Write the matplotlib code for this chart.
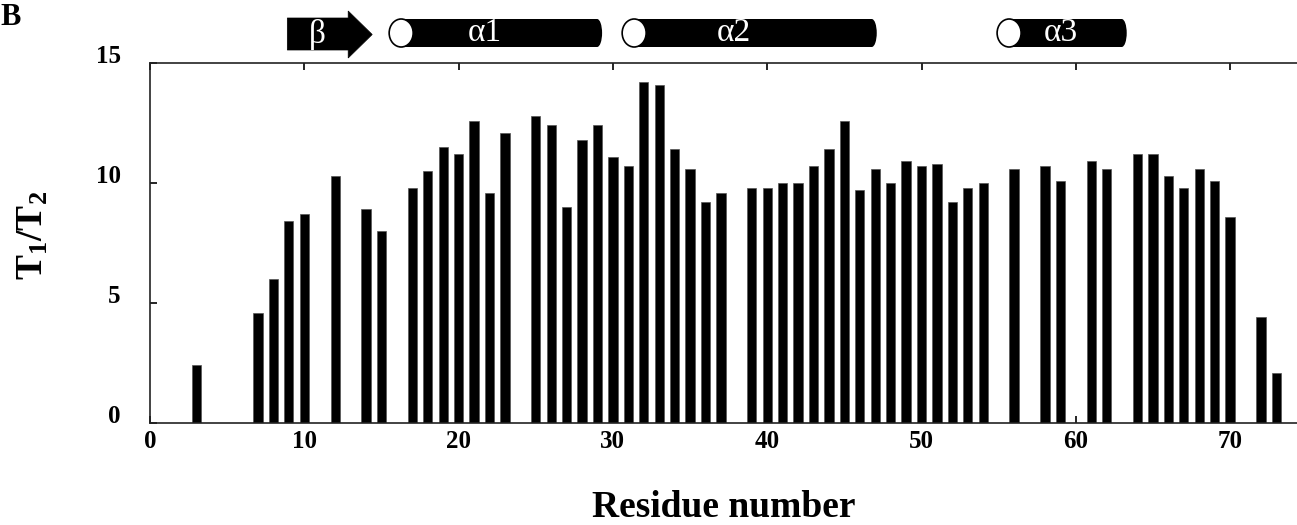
import matplotlib
matplotlib.use("Agg")
import matplotlib.pyplot as plt
from matplotlib.patches import Rectangle, Ellipse, Polygon

# T1/T2 per residue
residues = [3, 7, 8, 9, 10, 12, 14, 15, 17, 18, 19, 20, 21, 22, 23,
            25, 26, 27, 28, 29, 30, 31, 32, 33, 34, 35, 36, 37,
            39, 40, 41, 42, 43, 44, 45, 46, 47, 48, 49, 50, 51, 52, 53, 54,
            56, 58, 59, 61, 62, 64, 65, 66, 67, 68, 69, 70, 72, 73]
t1t2 = [2.4, 4.6, 6.0, 8.4, 8.7, 10.3, 8.9, 8.0, 9.8, 10.5, 11.5, 11.2, 12.6, 9.6, 12.1,
        12.8, 12.4, 9.0, 11.8, 12.4, 11.1, 10.7, 14.2, 14.1, 11.4, 10.6, 9.2, 9.6,
        9.8, 9.8, 10.0, 10.0, 10.7, 11.4, 12.6, 9.7, 10.6, 10.0, 10.9, 10.7, 10.8, 9.2, 9.8, 10.0,
        10.6, 10.7, 10.1, 10.9, 10.6, 11.2, 11.2, 10.3, 9.8, 10.6, 10.1, 8.6, 4.4, 2.1]

# secondary structure elements (residue ranges)
ss_names = ["β", "α1", "α2", "α3"]
ss_kind = ["strand", "helix", "helix", "helix"]
ss_start = [8.9, 15.5, 30.6, 54.9]
ss_end = [14.4, 29.3, 47.1, 63.3]

xticks = [0, 10, 20, 30, 40, 50, 60, 70]
yticks = [0, 5, 10, 15]

serif = "Liberation Serif"
plt.rcParams["font.family"] = serif
plt.rcParams["font.weight"] = "bold"
plt.rcParams["mathtext.fontset"] = "custom"
plt.rcParams["mathtext.rm"] = serif
plt.rcParams["mathtext.bf"] = serif + ":bold"

fig = plt.figure(figsize=(12.97, 5.25), dpi=100)
W, H = 1297.0, 525.0
ax = fig.add_axes([150 / W, 1 - 423 / H, 1 - 150 / W, 360 / H])

ax.bar(residues, t1t2, width=0.6, color="black", edgecolor="#555555", linewidth=0.5)

ax.set_xlim(0, (W - 150) / 15.43)
ax.set_ylim(0, 15)
ax.set_xticks(xticks)
ax.set_yticks(yticks)
ax.spines["right"].set_visible(False)
for s in ["left", "bottom", "top"]:
    ax.spines[s].set_linewidth(1.2)
    ax.spines[s].set_color("#222222")
ax.tick_params(axis="x", direction="in", length=5, width=1.2, top=True, pad=5, labelsize=18)
ax.tick_params(axis="y", direction="in", length=5, width=1.2, pad=21, labelsize=18)
# y labels sit a little above their ticks in the original
for lab in ax.get_yticklabels():
    lab.set_verticalalignment("baseline")

ax.set_xlabel("Residue number", fontweight="bold", fontsize=27)
ax.xaxis.set_label_coords(0.5, -0.185)
ax.text(-0.102, 0.52, r"$\mathbf{T_1/T_2}$", transform=ax.transAxes, rotation=90,
        ha="center", va="center", fontsize=27)

fig.text(0, 1 - 25 / H, "B", fontweight="bold", fontsize=22, ha="left", va="baseline")

# secondary structure strip, y in pixel rows
ax2 = fig.add_axes([150 / W, 1 - 62 / H, 1 - 150 / W, 62 / H], sharex=ax)
ax2.set_ylim(62, 0)
ax2.axis("off")
px = 15.43  # pixels per residue
for name, kind, x0, x1 in zip(ss_names, ss_kind, ss_start, ss_end):
    if kind == "strand":
        head = 24 / px
        ax2.add_patch(Polygon([(x0, 18), (x1 - head, 18), (x1 - head, 11), (x1, 34.5),
                               (x1 - head, 58), (x1 - head, 50), (x0, 50)],
                              closed=True, facecolor="black", edgecolor="black", lw=0.5))
        ax2.text(x0 + (x1 - head - x0) / 2, 35, name, color="white", fontweight="normal",
                 fontsize=24, ha="center", va="center")
    else:
        ew = 24 / px
        cap = 10 / px
        ax2.add_patch(Rectangle((x0 + ew / 2, 19), x1 - cap / 2 - x0 - ew / 2, 28,
                                facecolor="black", edgecolor="none"))
        ax2.add_patch(Ellipse((x1 - cap / 2, 33), cap, 28, facecolor="black", edgecolor="none"))
        ax2.add_patch(Ellipse((x0 + ew / 2, 33), ew, 28, facecolor="white",
                              edgecolor="black", lw=1.2))
        ax2.text(x0 + ew + (x1 - x0 - ew) * 0.38, 33, name, color="white", fontweight="normal",
                 fontsize=24, ha="center", va="center")

fig.savefig("out.png", dpi=100)
